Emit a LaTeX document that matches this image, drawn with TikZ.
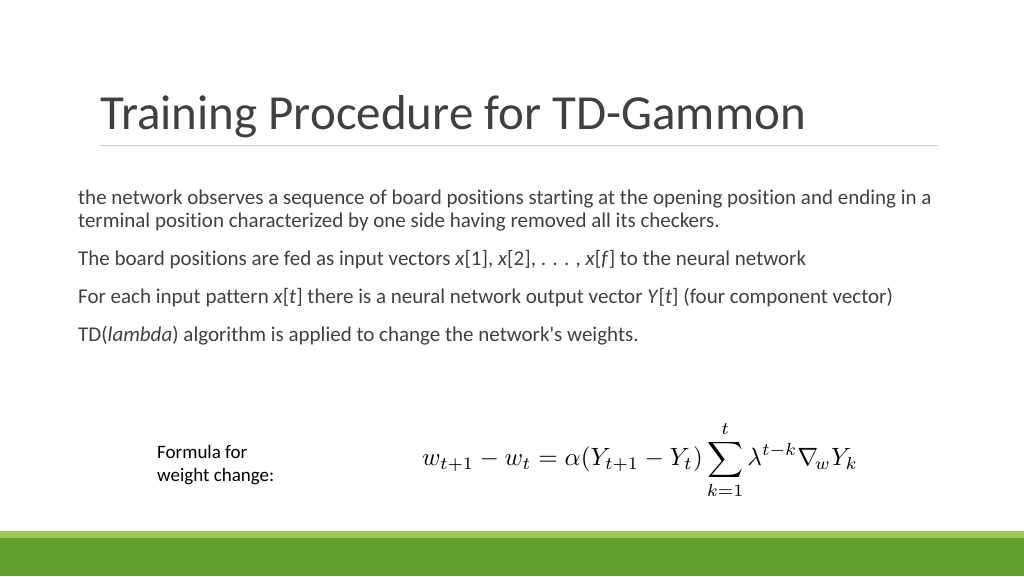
\documentclass[tikz,border=0pt]{standalone}
\usepackage{fontspec}
\setmainfont[Ligatures={NoCommon}]{Carlito}
\usepackage{amsmath}
\definecolor{lightg}{HTML}{9BC850}
\definecolor{darkg}{HTML}{62A033}
\definecolor{txt}{HTML}{404040}
\begin{document}
\begin{tikzpicture}[x=1pt,y=-1pt,
  body/.style={anchor=base west,inner sep=0pt,text=txt,font=\fontsize{21}{25}\selectfont},
  small/.style={anchor=north west,inner sep=0pt,align=left,font=\fontsize{19}{23}\selectfont}]
\useasboundingbox (0,0) rectangle (1024,576);
\fill[white] (0,0) rectangle (1024,576);
\node[anchor=base west,inner sep=0pt,text=txt,font=\fontsize{49}{55}\selectfont] (title) at (100,129) {Training Procedure for TD-Gammon};
\draw[gray!40,line width=1pt] (100,145) -- (938,145);
\node[body] (l1) at (78,204) {the network observes a sequence of board positions starting at the opening position and ending in a};
\node[body] (l2) at (78,227) {terminal position characterized by one side having removed all its checkers.};
\node[body] (l3) at (78,265) {The board positions are fed as input vectors \textit{x}[1], \textit{x}[2], . . . , \textit{x}[\textit{f}] to the neural network};
\node[body] (l4) at (78,303) {For each input pattern \textit{x}[\textit{t}] there is a neural network output vector \textit{Y}[\textit{t}] (four component vector)};
\node[body] (l5) at (78,341) {TD(\textit{lambda}) algorithm is applied to change the network\textquotesingle s weights.};
\node[small] (lab) at (157,445) {Formula for\\weight change:};
\node[inner sep=0pt,scale=2.5] (f) at (640,460) {$w_{t+1}-w_t=\alpha(Y_{t+1}-Y_t)\displaystyle\sum_{k=1}^{t}\lambda^{t-k}\nabla_{\!w}Y_k$};
\fill[lightg] (0,531) rectangle (1024,538);
\fill[darkg] (0,538) rectangle (1024,576);
\end{tikzpicture}
\end{document}
